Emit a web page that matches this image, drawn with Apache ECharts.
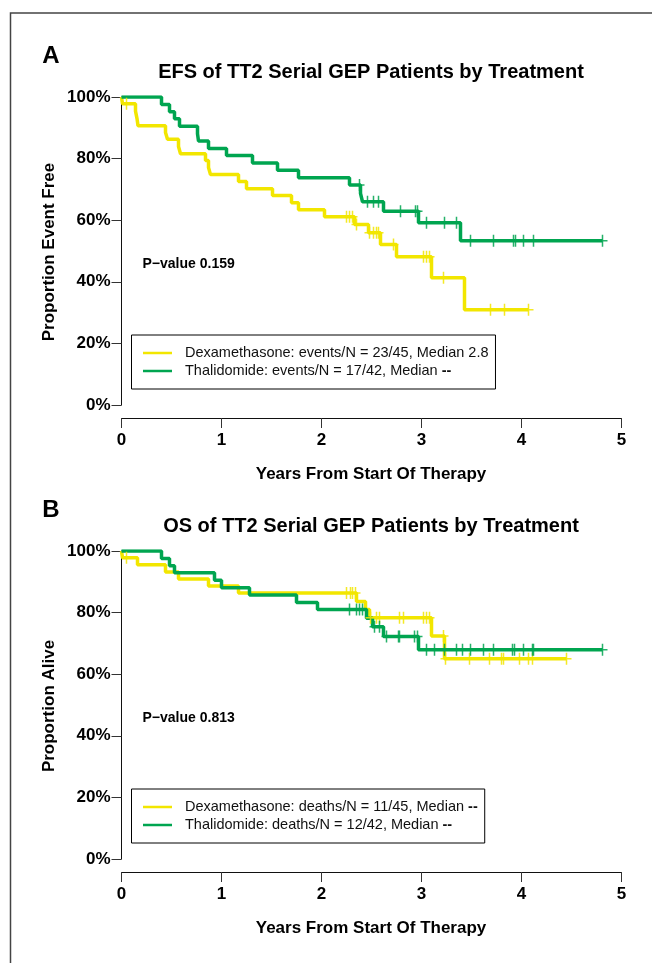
<!DOCTYPE html>
<html>
<head>
<meta charset="utf-8">
<script src="https://cdn.jsdelivr.net/npm/echarts@6/dist/echarts.min.js"></script>
<style>
html,body{margin:0;padding:0;background:#fff;}
#chart{width:652px;height:963px;}
</style>
</head>
<body>
<div id="chart"></div>
<script>
// ---------- DATA ----------
var xTicks = [0, 1, 2, 3, 4, 5];
var yTicks = [0, 20, 40, 60, 80, 100];

// Panel A: EFS
var efsDexTimes = [0, 0.01, 0.14, 0.155, 0.165, 0.44, 0.46, 0.57, 0.59, 0.84, 0.87, 0.89, 1.17, 1.25, 1.51, 1.70, 1.77, 2.03, 2.33, 2.47, 2.59, 2.75, 3.10, 3.43, 4.07];
var efsDexSurv  = [100, 97.8, 95.4, 93.0, 90.7, 88.5, 86.3, 83.9, 81.6, 79.4, 77.1, 74.8, 72.6, 70.2, 68.0, 65.7, 63.4, 61.1, 58.6, 55.9, 52.1, 48.1, 41.3, 30.9, 30.9];
var efsDexCens  = [0.05, 2.25, 2.28, 2.31, 2.35, 2.48, 2.52, 2.55, 2.57, 2.72, 3.02, 3.05, 3.08, 3.22, 3.69, 3.83, 4.07];

var efsThalTimes = [0, 0.40, 0.48, 0.53, 0.58, 0.76, 0.77, 0.87, 1.05, 1.31, 1.56, 1.77, 2.28, 2.39, 2.41, 2.62, 2.97, 3.39, 4.81];
var efsThalSurv  = [100, 97.6, 95.2, 92.9, 90.5, 88.1, 85.7, 83.3, 81.0, 78.6, 76.2, 73.8, 71.4, 68.7, 66.0, 62.9, 59.2, 53.3, 53.3];
var efsThalCens  = [2.38, 2.46, 2.52, 2.57, 2.79, 2.94, 2.96, 3.05, 3.23, 3.35, 3.49, 3.72, 3.92, 3.94, 4.02, 4.12, 4.81];

// Panel B: OS
var osDexTimes = [0, 0.01, 0.16, 0.44, 0.57, 0.87, 1.17, 2.35, 2.44, 2.48, 3.10, 3.23, 4.45];
var osDexSurv  = [100, 97.8, 95.5, 93.2, 90.9, 88.6, 86.4, 83.6, 81.0, 78.3, 72.4, 65.0, 65.0];
var osDexCens  = [0.05, 2.25, 2.29, 2.31, 2.34, 2.49, 2.55, 2.58, 2.78, 2.82, 3.02, 3.05, 3.08, 3.22, 3.24, 3.48, 3.68, 3.80, 3.82, 3.98, 4.07, 4.11, 4.45];

var osThalTimes = [0, 0.40, 0.48, 0.53, 0.93, 1.00, 1.28, 1.75, 1.96, 2.45, 2.51, 2.62, 2.97, 4.81];
var osThalSurv  = [100, 97.6, 95.2, 92.9, 90.5, 88.1, 85.7, 83.3, 81.0, 78.2, 75.4, 72.2, 67.9, 67.9];
var osThalCens  = [2.28, 2.35, 2.38, 2.41, 2.53, 2.58, 2.65, 2.77, 2.78, 2.93, 2.96, 3.05, 3.13, 3.23, 3.35, 3.41, 3.49, 3.62, 3.72, 3.91, 3.93, 4.02, 4.11, 4.12, 4.81];

var legendA = ["Dexamethasone: events/N = 23/45, Median 2.8", "Thalidomide: events/N = 17/42, Median --"];
var legendB = ["Dexamethasone: deaths/N = 11/45, Median --", "Thalidomide: deaths/N = 12/42, Median --"];
var titles = ["EFS of TT2 Serial GEP Patients by Treatment", "OS of TT2 Serial GEP Patients by Treatment"];
var yNames = ["Proportion Event Free", "Proportion Alive"];
var xName = "Years From Start Of Therapy";
var pValues = ["P\u2212value 0.159", "P\u2212value 0.813"];
var panelLetters = ["A", "B"];

// ---------- BUILD ----------
var YELLOW = '#F2E600', GREEN = '#00A550';
var FONT = '"Liberation Sans", Arial, Helvetica, sans-serif';
var PLUS = 'path://M4.25,0 h1.5 v5.25 h4.25 v1.5 h-4.25 v5.25 h-1.5 v-5.25 h-4.25 v-1.5 h4.25 z';

function stepPts(t, s) { return t.map(function (v, i) { return [v, s[i]]; }); }
function survAt(t, s, x) {
  var v = s[0];
  for (var i = 0; i < t.length; i++) { if (t[i] <= x) v = s[i]; }
  return v;
}
function censPts(t, s, c) { return c.map(function (x) { return [x, survAt(t, s, x)]; }); }

var OFF = 454;
var gridTop = [97, 97 + OFF];
var grids = [], xAxes = [], yAxes = [];
for (var p = 0; p < 2; p++) {
  grids.push({ left: 121.5, top: gridTop[p], width: 500, height: 308 });
  grids.push({ left: 121.5, top: gridTop[p], width: 500, height: 321 });
  // main (data) axes
  xAxes.push({ gridIndex: 2 * p, type: 'value', min: 0, max: 5, show: false });
  yAxes.push({
    gridIndex: 2 * p, type: 'value', min: yTicks[0], max: yTicks[yTicks.length - 1], interval: 20,
    axisLine: { show: true, lineStyle: { color: '#111', width: 1 } },
    axisTick: { show: true, length: 10, lineStyle: { color: '#333', width: 1 } },
    splitLine: { show: false },
    axisLabel: { margin: 11, formatter: '{value}%', color: '#000', fontWeight: 'bold', fontSize: 17, fontFamily: FONT }
  });
  // detached x axis
  xAxes.push({
    gridIndex: 2 * p + 1, type: 'value', min: xTicks[0], max: xTicks[xTicks.length - 1], interval: 1,
    axisLine: { show: true, lineStyle: { color: '#111', width: 1 } },
    axisTick: { show: true, length: 10, lineStyle: { color: '#333', width: 1 } },
    splitLine: { show: false },
    axisLabel: { margin: 14, color: '#000', fontWeight: 'bold', fontSize: 17, fontFamily: FONT }
  });
  yAxes.push({ gridIndex: 2 * p + 1, type: 'value', min: 0, max: 1, show: false });
}

function lineSeries(name, axisIdx, t, s, color) {
  return {
    name: name, type: 'line', step: 'end', xAxisIndex: axisIdx, yAxisIndex: axisIdx,
    data: stepPts(t, s), showSymbol: false, symbol: 'none', color: color,
    lineStyle: { color: color, width: 3.5 }, z: 3, silent: true
  };
}
function censSeries(axisIdx, t, s, c, color) {
  return {
    type: 'scatter', xAxisIndex: axisIdx, yAxisIndex: axisIdx,
    data: censPts(t, s, c), symbol: PLUS, symbolSize: [10, 12],
    itemStyle: { color: color, opacity: 0.85 }, z: 4, silent: true
  };
}

var series = [
  lineSeries(legendA[0], 0, efsDexTimes, efsDexSurv, YELLOW),
  censSeries(0, efsDexTimes, efsDexSurv, efsDexCens, YELLOW),
  lineSeries(legendA[1], 0, efsThalTimes, efsThalSurv, GREEN),
  censSeries(0, efsThalTimes, efsThalSurv, efsThalCens, GREEN),
  lineSeries(legendB[0], 2, osDexTimes, osDexSurv, YELLOW),
  censSeries(2, osDexTimes, osDexSurv, osDexCens, YELLOW),
  lineSeries(legendB[1], 2, osThalTimes, osThalSurv, GREEN),
  censSeries(2, osThalTimes, osThalSurv, osThalCens, GREEN)
];

function legendCfg(names, top) {
  return {
    data: names, orient: 'vertical', left: 131.5, top: top,
    padding: [9, 7, 9, 11.5], itemGap: 0,
    borderColor: '#000', borderWidth: 1, borderRadius: 0,
    icon: 'rect', itemWidth: 29, itemHeight: 2.5,
    selectedMode: false,
    formatter: function (n) { return n.replace('--', '{b|--}'); },
    textStyle: {
      color: '#111', fontSize: 14.5, fontFamily: FONT, lineHeight: 18, padding: [0, 0, 0, 8],
      rich: { b: { fontWeight: 'bold', fontSize: 14.5, fontFamily: FONT, color: '#111', lineHeight: 18 } }
    }
  };
}

var graphics = [
  { type: 'polyline', shape: { points: [[10.5, 963], [10.5, 13], [652, 13]] }, style: { stroke: '#444', lineWidth: 1.5, fill: null }, silent: true }
];
for (var q = 0; q < 2; q++) {
  var dy = q * OFF;
  graphics.push({ type: 'text', x: 51, y: 56 + dy, style: { text: panelLetters[q], font: 'bold 24px ' + FONT, fill: '#000', textAlign: 'center', textVerticalAlign: 'middle' } });
  graphics.push({ type: 'text', x: 371, y: 72 + dy, style: { text: titles[q], font: 'bold 20px ' + FONT, fill: '#000', textAlign: 'center', textVerticalAlign: 'middle' } });
  graphics.push({ type: 'text', x: 371, y: 474 + dy, style: { text: xName, font: 'bold 17px ' + FONT, fill: '#000', textAlign: 'center', textVerticalAlign: 'middle' } });
  graphics.push({ type: 'text', x: 49, y: 252 + dy, rotation: Math.PI / 2, style: { text: yNames[q], font: 'bold 17px ' + FONT, fill: '#000', textAlign: 'center', textVerticalAlign: 'middle' } });
  graphics.push({ type: 'text', x: 142.5, y: 264 + dy, style: { text: pValues[q], font: 'bold 14px ' + FONT, fill: '#000', textAlign: 'left', textVerticalAlign: 'middle' } });
}

var chart = echarts.init(document.getElementById('chart'), null, { renderer: 'canvas' });
chart.setOption({
  animation: false,
  backgroundColor: '#fff',
  grid: grids,
  xAxis: xAxes,
  yAxis: yAxes,
  legend: [legendCfg(legendA, 335), legendCfg(legendB, 335 + OFF)],
  series: series,
  graphic: graphics
});
</script>
</body>
</html>
